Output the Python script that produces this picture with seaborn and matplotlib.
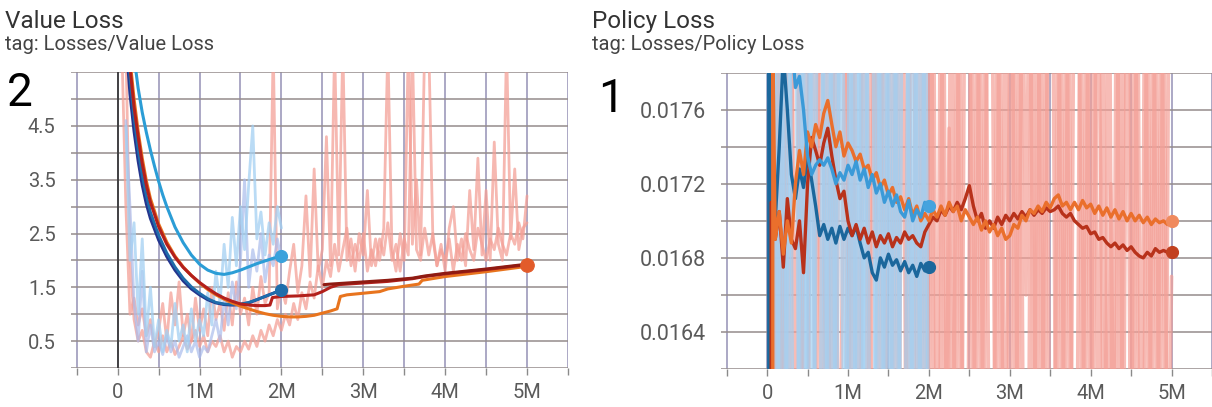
import numpy as np
import matplotlib
matplotlib.use("Agg")
import matplotlib.pyplot as plt
import seaborn as sns

# ---------------- data (x in millions of steps) ----------------
x_ticks = [0, 1, 2, 3, 4, 5]
x_tick_labels = ["0", "1M", "2M", "3M", "4M", "5M"]
value_ticks = [0.5, 1.5, 2.5, 3.5, 4.5]
value_tick_labels = ["0.5", "1.5", "2.5", "3.5", "4.5"]
policy_ticks = [0.0164, 0.0168, 0.0172, 0.0176]
policy_tick_labels = ["0.0164", "0.0168", "0.0172", "0.0176"]

# Value loss - raw (light) series
value_raw_pink_a = [6.0, 3.0, 1.0, 1.3, 0.8, 1.1, 0.6, 0.9, 0.4, 0.7,
                    1.2, 0.5, 1.4, 0.8, 1.6, 0.6, 1.0, 0.5, 1.3, 0.7,
                    1.1, 0.6, 1.5, 0.9, 1.2, 0.7, 1.4, 0.8, 1.6, 1.0,
                    1.3, 0.8, 1.5, 1.0, 1.7, 1.2, 1.4, 6.0, 1.1, 1.5,
                    1.2, 1.8, 2.3, 1.4, 1.9, 3.2, 1.7, 3.7, 1.8, 2.2,
                    4.3, 1.9, 6.0, 2.1, 6.0, 2.0, 2.4, 1.8, 2.5, 2.1,
                    3.3, 1.9, 2.4, 2.0, 2.6, 6.0, 2.2, 1.8, 2.5, 2.0,
                    6.0, 2.3, 3.5, 2.1, 6.0, 6.0, 2.4, 1.9, 2.3, 1.8,
                    2.6, 3.0, 2.0, 2.4, 1.9, 3.3, 2.2, 3.9, 2.1, 3.3,
                    2.0, 4.2, 2.3, 2.0, 6.0, 2.4, 3.7, 2.2, 2.6, 2.7]
value_raw_pink_b = [6.0, 2.0, 0.9, 0.5, 0.7, 0.3, 0.2, 0.5, 0.3, 0.6,
                    0.3, 0.5, 0.25, 0.4, 0.6, 0.35, 0.5, 0.7, 0.4, 0.6,
                    0.3, 0.5, 0.4, 0.6, 0.3, 0.5, 0.2, 0.4, 0.3, 0.5,
                    0.35, 0.6, 0.4, 0.7, 0.5, 0.8, 0.6, 0.9, 0.7, 1.0,
                    0.8, 1.2, 0.9, 1.4, 1.1, 1.6, 1.3, 1.9, 1.5,
                    2.0, 1.7, 2.3, 1.8, 2.2, 2.6, 1.9, 2.3, 2.0, 2.5,
                    1.8, 2.2, 1.9, 2.4, 2.1, 2.7, 2.0, 2.3, 1.8, 2.4,
                    2.1, 6.0, 2.2, 2.0, 2.6, 2.1, 2.5, 1.9, 2.2, 2.0,
                    2.4, 1.8, 2.3, 2.0, 2.5, 2.2, 2.0, 2.6, 2.3, 2.0,
                    2.4, 2.2, 2.6, 2.3, 2.1, 2.5, 2.3, 2.7, 2.4, 3.2]
value_raw_blue_c = [4.5, 2.0, 2.7, 1.0, 2.4, 0.6, 1.5, 0.4, 0.9, 0.3,
                    0.7, 0.4, 1.2, 0.5, 0.8, 0.3, 1.1, 0.5, 0.9, 0.6,
                    1.4, 0.8, 1.8, 1.2, 2.3, 1.5, 2.8, 1.9, 3.0, 2.2,
                    3.4, 4.5, 2.4, 2.9, 2.1, 2.7, 2.3, 3.0, 2.6]
value_raw_blue_d = [4.6, 3.0, 1.2, 0.5, 1.8, 0.3, 0.8, 0.3, 0.5, 0.25,
                    0.6, 0.3, 0.5, 0.2, 0.4, 0.6, 0.3, 0.5, 0.2, 0.4,
                    0.3, 0.6, 0.9, 0.5, 1.3, 0.8, 1.6, 1.1, 2.0, 3.5,
                    1.5, 2.2, 1.8, 2.5, 1.6, 2.1, 1.9, 2.4, 2.0]

# Value loss - smoothed series
vl_lightblue_x = [0.22, 0.25, 0.3, 0.35, 0.4, 0.45, 0.5, 0.55, 0.6, 0.7, 0.8, 0.9,
                  1.0, 1.1, 1.2, 1.3, 1.4, 1.5, 1.6, 1.7, 1.8, 1.9, 2.0]
vl_lightblue_y = [5.55, 5.2, 4.75, 4.38, 4.05, 3.75, 3.47, 3.22, 3.0, 2.62, 2.33, 2.1,
                  1.93, 1.82, 1.76, 1.74, 1.77, 1.82, 1.88, 1.94, 1.99, 2.04, 2.08]
vl_blue_x = [0.12, 0.15, 0.2, 0.25, 0.3, 0.35, 0.4, 0.5, 0.6, 0.7, 0.8, 0.9,
             1.0, 1.1, 1.2, 1.3, 1.4, 1.5, 1.6, 1.7, 1.8, 1.9, 2.0]
vl_navy_y = [5.7, 5.1, 4.4, 3.85, 3.4, 3.05, 2.78, 2.38, 2.07, 1.82, 1.62, 1.47,
             1.36, 1.27, 1.21, 1.18, 1.17, 1.18, 1.21, 1.27, 1.33, 1.39, 1.45]
vl_blue_y = [6.0, 5.4, 4.65, 4.05, 3.57, 3.2, 2.9, 2.47, 2.14, 1.88, 1.67, 1.51,
             1.39, 1.29, 1.22, 1.19, 1.18, 1.19, 1.22, 1.27, 1.33, 1.39, 1.45]
vl_red_x = [0.15, 0.2, 0.25, 0.3, 0.35, 0.4, 0.5, 0.6, 0.7, 0.8, 0.9, 1.0, 1.1, 1.2,
            1.3, 1.4, 1.5, 1.6, 1.7, 1.8, 1.86, 1.89, 2.0, 2.2, 2.4, 2.5, 2.6, 2.7,
            3.0, 3.3, 3.6, 3.75, 4.0, 4.5, 5.0]
vl_red_y = [5.6, 4.85, 4.3, 3.8, 3.4, 3.08, 2.63, 2.3, 2.06, 1.87, 1.72, 1.59, 1.48, 1.38,
            1.3, 1.24, 1.19, 1.17, 1.16, 1.16, 1.17, 1.31, 1.33, 1.34, 1.36, 1.42, 1.5, 1.55,
            1.58, 1.61, 1.66, 1.7, 1.75, 1.83, 1.92]
vl_darkred_x = [2.52, 2.6, 2.8, 3.0, 3.3, 3.6, 3.75, 4.0, 4.5, 5.0]
vl_darkred_y = [1.55, 1.56, 1.58, 1.6, 1.63, 1.67, 1.71, 1.76, 1.84, 1.93]
vl_orange_x = [0.16, 0.2, 0.25, 0.3, 0.35, 0.4, 0.5, 0.6, 0.7, 0.8, 0.9, 1.0, 1.1, 1.2,
               1.3, 1.4, 1.5, 1.6, 1.7, 1.8, 1.9, 2.0, 2.1, 2.2, 2.3, 2.4, 2.5, 2.6, 2.68,
               2.72, 2.8, 3.0, 3.2, 3.3, 3.5, 3.68, 3.72, 4.0, 4.5, 5.0]
vl_orange_y = [5.6, 5.0, 4.4, 3.9, 3.48, 3.15, 2.68, 2.34, 2.08, 1.88, 1.72, 1.58, 1.46, 1.36,
               1.28, 1.21, 1.15, 1.1, 1.05, 1.01, 0.98, 0.96, 0.95, 0.95, 0.96, 0.98, 1.02, 1.06, 1.1,
               1.33, 1.36, 1.39, 1.42, 1.47, 1.52, 1.56, 1.63, 1.7, 1.79, 1.89]

# Policy loss - raw (light) series
policy_raw_pink_e = [0.019, 0.015, 0.019, 0.015, 0.019, 0.019, 0.015, 0.019, 0.015, 0.015,
                     0.019, 0.015, 0.019, 0.0172, 0.015, 0.019, 0.015, 0.019, 0.019, 0.015,
                     0.019, 0.015, 0.015, 0.019, 0.015, 0.019, 0.0168, 0.019, 0.015, 0.019,
                     0.015, 0.019, 0.015, 0.015, 0.019, 0.015, 0.019, 0.015, 0.019, 0.015,
                     0.019, 0.015, 0.019, 0.015, 0.0175, 0.015, 0.019, 0.015, 0.019, 0.019,
                     0.015, 0.019, 0.015, 0.019, 0.015, 0.015, 0.019, 0.015, 0.019, 0.015,
                     0.019, 0.015, 0.019, 0.0166, 0.019, 0.015, 0.019, 0.015, 0.019, 0.015,
                     0.015, 0.019, 0.015, 0.019, 0.015, 0.019, 0.019, 0.015, 0.019, 0.015,
                     0.019, 0.015, 0.019, 0.015, 0.0172, 0.015, 0.019, 0.015, 0.019, 0.015,
                     0.019, 0.015, 0.015, 0.019, 0.015, 0.019, 0.015, 0.019, 0.015, 0.0167]
policy_raw_pink_f = [0.015, 0.019, 0.015, 0.019, 0.015, 0.019, 0.019, 0.015, 0.019, 0.015,
                     0.015, 0.019, 0.015, 0.019, 0.015, 0.019, 0.015, 0.0165, 0.019, 0.015,
                     0.019, 0.015, 0.019, 0.019, 0.015, 0.019, 0.015, 0.019, 0.015, 0.015,
                     0.019, 0.015, 0.019, 0.015, 0.019, 0.0176, 0.015, 0.019, 0.015, 0.019,
                     0.015, 0.015, 0.019, 0.015, 0.019, 0.015, 0.019, 0.015, 0.015, 0.019,
                     0.015, 0.019, 0.015, 0.019, 0.019, 0.015, 0.019, 0.015, 0.0168, 0.019,
                     0.015, 0.019, 0.015, 0.015, 0.019, 0.015, 0.019, 0.015, 0.019, 0.019,
                     0.015, 0.019, 0.015, 0.019, 0.015, 0.015, 0.019, 0.015, 0.019, 0.015,
                     0.019, 0.0172, 0.015, 0.019, 0.015, 0.019, 0.015, 0.019, 0.019, 0.015,
                     0.019, 0.015, 0.019, 0.015, 0.019, 0.015, 0.019, 0.015, 0.019]
policy_raw_blue_g = [0.019, 0.015, 0.019, 0.015, 0.019, 0.015, 0.019, 0.019, 0.015, 0.019,
                     0.015, 0.019, 0.015, 0.015, 0.019, 0.015, 0.019, 0.015, 0.019, 0.0175,
                     0.015, 0.019, 0.015, 0.019, 0.015, 0.019, 0.019, 0.015, 0.019, 0.015,
                     0.019, 0.015, 0.019, 0.015, 0.015, 0.019, 0.015, 0.019, 0.015, 0.019,
                     0.015]
policy_raw_blue_h = [0.015, 0.019, 0.015, 0.019, 0.015, 0.019, 0.015, 0.015, 0.019, 0.015,
                     0.019, 0.015, 0.019, 0.019, 0.015, 0.019, 0.015, 0.019, 0.0168, 0.015,
                     0.019, 0.015, 0.019, 0.015, 0.019, 0.015, 0.015, 0.019, 0.015, 0.019,
                     0.015, 0.019, 0.015, 0.019, 0.019, 0.015, 0.019, 0.015, 0.019, 0.015]

# Policy loss - smoothed series
pl_darkblue_x = [0.02, 0.02] + [round(0.05 * k, 2) for k in range(1, 41)]
pl_darkblue_y = [0.0160, 0.0180,
                 0.01710, 0.01700, 0.01740, 0.01790, 0.01760, 0.01725, 0.01712, 0.01728,
                 0.01718, 0.01735, 0.01722, 0.01708, 0.01692, 0.01698, 0.01690, 0.01696,
                 0.01688, 0.01697, 0.01690, 0.01696, 0.01692, 0.01697, 0.01688, 0.01680,
                 0.01683, 0.01672, 0.01668, 0.01680, 0.01675, 0.01682, 0.01676, 0.01679,
                 0.01673, 0.01678, 0.01672, 0.01676, 0.01670, 0.01677, 0.01673, 0.01675]
pl_lightblue_start = 0.30
pl_lightblue_y = [0.0180, 0.01772, 0.01778, 0.01760, 0.01735, 0.01725, 0.01730, 0.01733,
                  0.01730, 0.01734, 0.01728, 0.01720, 0.01726, 0.01722, 0.01730, 0.01725,
                  0.01732, 0.01722, 0.01728, 0.01718, 0.01725, 0.01715, 0.01720, 0.01710,
                  0.01716, 0.01708, 0.01714, 0.01705, 0.01702, 0.01711, 0.01700, 0.01706,
                  0.01702, 0.01710, 0.01708]
pl_orange_x = [0.07, 0.07] + [round(0.05 * k, 2) for k in range(2, 101)]
pl_orange_y = [0.0160, 0.0180,
               0.01690, 0.01705, 0.01682, 0.01700, 0.01688, 0.01720, 0.01738, 0.01725, 0.01748,
               0.01740, 0.01752, 0.01745, 0.01758, 0.01765, 0.01752, 0.01740, 0.01748, 0.01735,
               0.01742, 0.01738, 0.01732, 0.01736, 0.01728, 0.01730, 0.01722, 0.01726, 0.01718,
               0.01722, 0.01714, 0.01718, 0.01710, 0.01713, 0.01706, 0.01712, 0.01703, 0.01708,
               0.01700, 0.01704, 0.01700, 0.01706, 0.01702, 0.01708, 0.01703, 0.01710, 0.01705,
               0.01708, 0.01700, 0.01706, 0.01702, 0.01698, 0.01702, 0.01695, 0.01700, 0.01694,
               0.01698, 0.01692, 0.01696, 0.01690, 0.01692, 0.01698, 0.01696, 0.01703, 0.01700,
               0.01706, 0.01704, 0.01708, 0.01705, 0.01710, 0.01707, 0.01712, 0.01714, 0.01708,
               0.01710, 0.01706, 0.01710, 0.01706, 0.01711, 0.01707, 0.01709, 0.01704, 0.01708,
               0.01703, 0.01707, 0.01702, 0.01706, 0.01701, 0.01705, 0.01700, 0.01704, 0.01700,
               0.01703, 0.01699, 0.01702, 0.01698, 0.01701, 0.01699, 0.01700, 0.01698, 0.01700]
pl_red_x = [0.05, 0.05] + [round(0.05 * k, 2) for k in range(2, 101)]
pl_red_y = [0.0160, 0.01710,
            0.01690, 0.01705, 0.01675, 0.01712, 0.01690, 0.01685, 0.01700, 0.01672, 0.01720,
            0.01745, 0.01738, 0.01730, 0.01742, 0.01750, 0.01735, 0.01722, 0.01712, 0.01716,
            0.01700, 0.01692, 0.01698, 0.01690, 0.01696, 0.01688, 0.01694, 0.01686, 0.01692,
            0.01688, 0.01693, 0.01686, 0.01691, 0.01688, 0.01694, 0.01690, 0.01692, 0.01688,
            0.01686, 0.01694, 0.01698, 0.01702, 0.01700, 0.01706, 0.01703, 0.01708, 0.01705,
            0.01710, 0.01706, 0.01712, 0.01719, 0.01708, 0.01700, 0.01704, 0.01696, 0.01700,
            0.01696, 0.01702, 0.01698, 0.01703, 0.01700, 0.01704, 0.01701, 0.01705, 0.01702,
            0.01706, 0.01703, 0.01706, 0.01704, 0.01707, 0.01705, 0.01706, 0.01708, 0.01704,
            0.01702, 0.01704, 0.01700, 0.01698, 0.01696, 0.01697, 0.01693, 0.01694, 0.01690,
            0.01691, 0.01688, 0.01686, 0.01688, 0.01685, 0.01687, 0.01684, 0.01686, 0.01683,
            0.01681, 0.01680, 0.01683, 0.01681, 0.01685, 0.01683, 0.01684, 0.01683, 0.01683]

# ---------------- drawing ----------------
sns.set_theme(style="white")
plt.rcParams["font.family"] = ["Roboto", "DejaVu Sans"]

fig = plt.figure(figsize=(12.12, 4.07), dpi=100)
axL = fig.add_axes([0.0586, 0.0958, 0.410, 0.727])
axR = fig.add_axes([0.5949, 0.0934, 0.4051, 0.728])


def grid_x(start, step, vals):
    return start + step * np.arange(len(vals))


def line(ax, x, y, color, lw, alpha=1.0, z=3):
    sns.lineplot(x=list(x), y=list(y), ax=ax, color=color, linewidth=lw, alpha=alpha,
                 sort=False, estimator=None, zorder=z, legend=False)


def dot(ax, x, y, color, s=75):
    sns.scatterplot(x=[x[-1]], y=[y[-1]], ax=ax, color=color, s=s, edgecolor=color,
                    linewidth=0.8, zorder=5, legend=False)


PINK = "#f4a097"
LBLUE = "#a3d0f2"
LAV = "#aabcec"

# --- value loss ---
line(axL, grid_x(0.05, 0.05, value_raw_pink_a), value_raw_pink_a, PINK, 2.0, 0.75, 2)
line(axL, grid_x(0.10, 0.05, value_raw_pink_b), value_raw_pink_b, PINK, 2.0, 0.75, 2)
line(axL, grid_x(0.10, 0.05, value_raw_blue_d), value_raw_blue_d, LAV, 2.0, 0.7, 2)
line(axL, grid_x(0.10, 0.05, value_raw_blue_c), value_raw_blue_c, LBLUE, 2.0, 0.75, 2)

line(axL, vl_blue_x, vl_navy_y, "#24358e", 2.2)
line(axL, vl_blue_x, vl_blue_y, "#1f6dab", 2.0)
line(axL, vl_orange_x, vl_orange_y, "#e8741e", 2.2)
line(axL, vl_red_x, vl_red_y, "#b3201c", 2.2)
line(axL, vl_darkred_x, vl_darkred_y, "#8f1b12", 2.2)
line(axL, vl_lightblue_x, vl_lightblue_y, "#2b9dd6", 2.2)
dot(axL, vl_lightblue_x, vl_lightblue_y, "#3aa2dc")
dot(axL, vl_blue_x, vl_blue_y, "#1f6dab")
dot(axL, vl_red_x, vl_red_y, "#e25b2a", 95)
axL.axvline(0, color="#3a3a3a", lw=1.3, zorder=1.5)

# --- policy loss ---
line(axR, grid_x(0.05, 0.05, policy_raw_pink_e), policy_raw_pink_e, PINK, 2.6, 0.7, 2)
line(axR, grid_x(0.075, 0.05, policy_raw_pink_f), policy_raw_pink_f, PINK, 2.6, 0.7, 2)
line(axR, grid_x(0.0, 0.05, policy_raw_blue_g), policy_raw_blue_g, LBLUE, 2.6, 0.7, 2)
line(axR, grid_x(0.025, 0.05, policy_raw_blue_h), policy_raw_blue_h, LBLUE, 2.6, 0.7, 2)

line(axR, pl_darkblue_x, pl_darkblue_y, "#1b679c", 2.4)
line(axR, pl_red_x, pl_red_y, "#b8321b", 2.4)
line(axR, pl_orange_x, pl_orange_y, "#ea6f2c", 2.4)
pl_lightblue_x = grid_x(pl_lightblue_start, 0.05, pl_lightblue_y)
line(axR, pl_lightblue_x, pl_lightblue_y, "#3b9ad8", 2.4)
dot(axR, pl_lightblue_x, pl_lightblue_y, "#45a3de")
dot(axR, pl_darkblue_x, pl_darkblue_y, "#1b679c")
dot(axR, pl_orange_x, pl_orange_y, "#f08a5e")
dot(axR, pl_red_x, pl_red_y, "#c1401f")

# --- axes styling ---
minor_x = [-0.5, 0.5, 1.5, 2.5, 3.5, 4.5, 5.5]
for ax, xmax, yl, yticks, ylabels, yminor, ysize in [
    (axL, 5.5, (0, 5.5), value_ticks, value_tick_labels, [0, 1, 2, 3, 4, 5, 5.5], 14.5),
    (axR, 5.47, (0.0162, 0.0178), policy_ticks, policy_tick_labels,
     [0.0162, 0.0166, 0.0170, 0.0174, 0.0178], 15.5),
]:
    ax.set_xlim(-0.57, xmax)
    ax.set_ylim(*yl)
    ax.set_xticks(x_ticks)
    ax.set_xticklabels(x_tick_labels)
    ax.set_xticks(minor_x, minor=True)
    ax.set_yticks(yticks)
    ax.set_yticklabels(ylabels)
    ax.set_yticks(yminor, minor=True)
    ax.set_xlabel("")
    ax.set_ylabel("")
    for sp in ax.spines.values():
        sp.set_visible(False)
    ax.set_axisbelow(True)
    ax.grid(True, which="both", axis="x", color="#9591b5", lw=1.1)
    ax.grid(True, which="both", axis="y", color="#958c8c", lw=1.1)
    ax.tick_params(axis="x", which="both", direction="out", length=5, width=1,
                   color="#8a8a8a", labelsize=14.5, labelcolor="#5a5a5a", pad=6,
                   bottom=True)
    ax.tick_params(axis="y", which="both", length=0, labelsize=ysize,
                   labelcolor="#5a5a5a", pad=11)
    ax.set_facecolor("white")

# --- titles ---
fig.text(5 / 1212, 1 - 28 / 407, "Value Loss", fontsize=17.5, color="#333333")
fig.text(5 / 1212, 1 - 50 / 407, "tag: Losses/Value Loss", fontsize=14.5, color="#444444")
fig.text(592 / 1212, 1 - 28 / 407, "Policy Loss", fontsize=17.5, color="#333333")
fig.text(592 / 1212, 1 - 50 / 407, "tag: Losses/Policy Loss", fontsize=14.5, color="#444444")
fig.text(7 / 1212, 1 - 106 / 407, "2", fontsize=33, color="black")
fig.text(598 / 1212, 1 - 112 / 407, "1", fontsize=33, color="black")

fig.savefig("out.png", dpi=100)
